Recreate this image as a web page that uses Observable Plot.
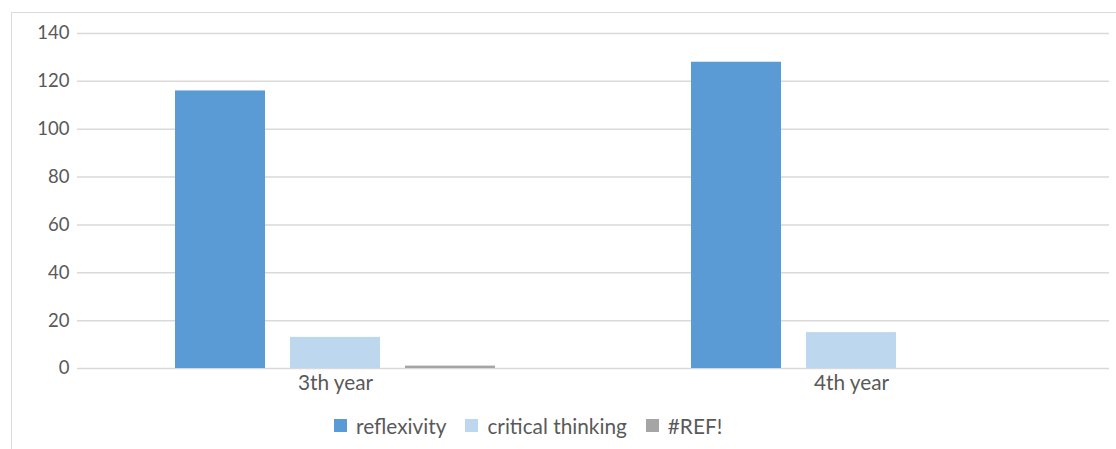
<!DOCTYPE html>
<html>
<head>
<meta charset="utf-8">
<script src="https://cdn.jsdelivr.net/npm/d3@7"></script>
<script src="https://cdn.jsdelivr.net/npm/@observablehq/plot@0.6"></script>
<style>
  html, body { margin: 0; padding: 0; background: #fff; }
  body { width: 1116px; height: 449px; position: relative; overflow: hidden; font-family: Lato, "Open Sans", sans-serif; }
  #frame { position: absolute; left: 11px; top: 12px; width: 1200px; height: 500px; border: 1.5px solid #d9d9d9; box-sizing: border-box; }
  #chart { position: absolute; left: 0; top: 0; }
  #legend { position: absolute; left: 334px; top: 413px; display: flex; align-items: center; font-size: 20.8px; color: #595959; white-space: nowrap; }
  #legend .item { display: flex; align-items: center; margin-right: 19px; }
  #legend .sw { width: 13px; height: 13px; margin-right: 9px; }
</style>
</head>
<body>
<div id="frame"></div>
<div id="chart"></div>
<div id="legend"></div>
<script>
const years = ["3th year", "4th year"];
const series = ["reflexivity", "critical thinking", "#REF!"];
const reflexivity = [116, 128];
const criticalThinking = [13, 15];
const refError = [1, null];
const colors = ["#5B9BD5", "#BDD7EE", "#A5A5A5"];
const yTicks = [0, 20, 40, 60, 80, 100, 120, 140];

const valuesBySeries = [reflexivity, criticalThinking, refError];
const rows = [];
years.forEach((yr, i) => {
  series.forEach((s, j) => {
    const v = valuesBySeries[j][i];
    if (v != null) rows.push({year: yr, series: s, value: v});
  });
});

const chart = Plot.plot({
  width: 1116,
  height: 400,
  marginLeft: 76,
  marginRight: 7,
  marginTop: 33,
  marginBottom: 32,
  style: {fontFamily: "Lato, 'Open Sans', sans-serif", fontSize: "18.5px", color: "#595959", background: "transparent"},
  fx: {domain: years, padding: 0, label: null},
  x: {domain: series, axis: null, paddingInner: 0.217, paddingOuter: 0.85},
  y: {domain: [0, 140], ticks: yTicks, label: null, grid: false},
  color: {domain: series, range: colors},
  marks: [
    Plot.gridY(yTicks, {stroke: "#d9d9d9", strokeOpacity: 1, strokeWidth: 1.5}),
    Plot.axisY(yTicks, {tickSize: 0, tickPadding: 8, fill: "#595959", label: null}),
    Plot.axisFx({anchor: "bottom", tickSize: 0, tickPadding: 7, fill: "#595959", label: null, fontSize: 20.8}),
    Plot.barY(rows, {fx: "year", x: "series", y: "value", fill: "series"})
  ]
});
document.getElementById("chart").appendChild(chart);

const legend = document.getElementById("legend");
series.forEach((s, i) => {
  const item = document.createElement("div");
  item.className = "item";
  const sw = document.createElement("div");
  sw.className = "sw";
  sw.style.background = colors[i];
  const t = document.createElement("span");
  t.textContent = s;
  item.appendChild(sw);
  item.appendChild(t);
  legend.appendChild(item);
});
</script>
</body>
</html>
